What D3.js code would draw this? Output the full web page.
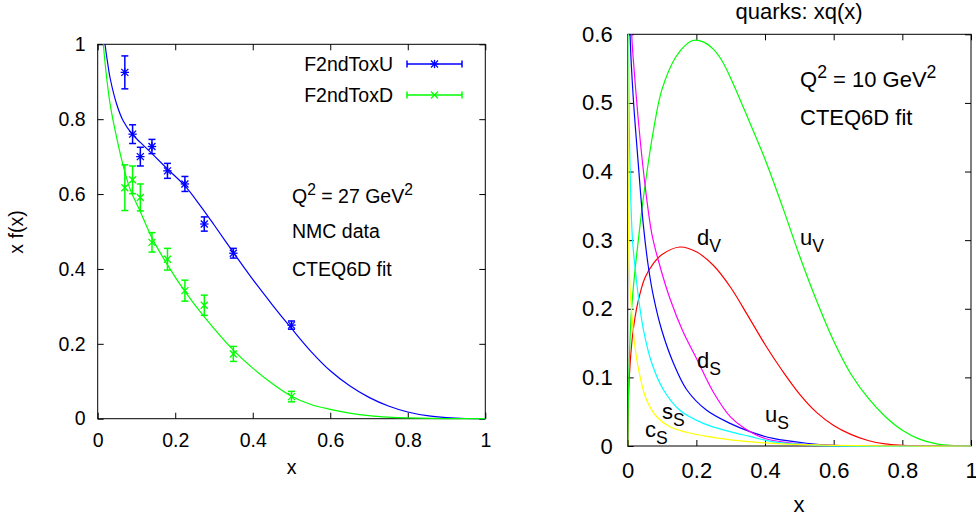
<!DOCTYPE html>
<html>
<head>
<meta charset="utf-8">
<script src="https://cdn.jsdelivr.net/npm/d3@7"></script>
<style>
  body { margin: 0; background: #fff; }
  svg { display: block; font-family: "Liberation Sans", Arial, Helvetica, sans-serif; }
</style>
</head>
<body>
<svg id="chart" width="976" height="519"></svg>
<script>
// ---- left panel: NMC F2n/F2p data mapped to x*u and x*d, with CTEQ6D curves
const nmcX = [0.07, 0.09, 0.11, 0.14, 0.18, 0.225, 0.275, 0.35, 0.5]
const nmcU = [0.925, 0.760, 0.700, 0.727, 0.662, 0.627, 0.520, 0.442, 0.250]
const nmcUErr = [0.044, 0.025, 0.025, 0.019, 0.020, 0.020, 0.019, 0.013, 0.011]
const nmcD = [0.617, 0.638, 0.591, 0.471, 0.426, 0.342, 0.303, 0.173, 0.059]
const nmcDErr = [0.061, 0.037, 0.036, 0.026, 0.029, 0.028, 0.027, 0.020, 0.014]

const fitUX = [0.012, 0.019, 0.025, 0.032, 0.049, 0.066, 0.089, 0.11, 0.14, 0.18, 0.224, 0.264, 0.3, 0.35, 0.4, 0.45, 0.5, 0.55, 0.6, 0.65, 0.7, 0.75, 0.8, 0.85, 0.9, 0.95, 1]
const fitUY = [1.08, 1.0, 0.955, 0.91, 0.84, 0.795, 0.760, 0.738, 0.708, 0.667, 0.623, 0.570, 0.518, 0.444, 0.372, 0.305, 0.241, 0.180, 0.128, 0.088, 0.057, 0.034, 0.018, 0.008, 0.003, 0.0006, 0]
const fitDX = [0.01, 0.0146, 0.02, 0.032, 0.049, 0.066, 0.083, 0.1, 0.11, 0.14, 0.18, 0.225, 0.275, 0.35, 0.4, 0.45, 0.5, 0.55, 0.6, 0.65, 0.7, 0.75, 0.8, 0.9, 1]
const fitDY = [1.07, 1.0, 0.94, 0.84, 0.75, 0.675, 0.615, 0.575, 0.553, 0.483, 0.411, 0.340, 0.272, 0.183, 0.135, 0.094, 0.060, 0.038, 0.025, 0.015, 0.008, 0.004, 0.002, 0.0003, 0]

const leftTicks = [0, 0.2, 0.4, 0.6, 0.8, 1]
const leftTickLabels = ['0', '0.2', '0.4', '0.6', '0.8', '1']

// ---- right panel: quark distributions xq(x) at Q^2 = 10 GeV^2
const uvX = [0, 0.002, 0.005, 0.01, 0.02, 0.031, 0.046, 0.075, 0.1, 0.14, 0.17, 0.19, 0.22, 0.25, 0.275, 0.3, 0.35, 0.4, 0.45, 0.5, 0.55, 0.6, 0.65, 0.7, 0.75, 0.8, 0.85, 0.9, 0.95, 1]
const uvY = [0, 0.07, 0.13, 0.19, 0.25, 0.30, 0.363, 0.46, 0.52, 0.567, 0.585, 0.591, 0.589, 0.578, 0.561, 0.536, 0.478, 0.418, 0.35, 0.278, 0.212, 0.153, 0.105, 0.07, 0.043, 0.023, 0.01, 0.003, 0.0005, 0]
const dvX = [0, 0.002, 0.007, 0.016, 0.03, 0.05, 0.075, 0.1, 0.152, 0.2, 0.25, 0.3, 0.35, 0.4, 0.45, 0.5, 0.55, 0.6, 0.65, 0.7, 0.75, 0.8, 0.85, 1]
const dvY = [0, 0.07, 0.12, 0.169, 0.21, 0.245, 0.266, 0.279, 0.29, 0.283, 0.263, 0.231, 0.19, 0.148, 0.11, 0.076, 0.049, 0.03, 0.017, 0.008, 0.003, 0.001, 0, 0]
const dsX = [0.005, 0.012, 0.02, 0.03, 0.046, 0.07, 0.094, 0.123, 0.16, 0.2, 0.25, 0.3, 0.34, 0.4, 0.5, 0.6, 0.7, 1]
const dsY = [0.75, 0.597, 0.54, 0.48, 0.40, 0.31, 0.262, 0.215, 0.168, 0.128, 0.078, 0.042, 0.026, 0.011, 0.003, 0.001, 0, 0]
const usX = [0.003, 0.007, 0.016, 0.031, 0.046, 0.06, 0.075, 0.099, 0.133, 0.172, 0.23, 0.298, 0.356, 0.424, 0.521, 0.6, 0.7, 1]
const usY = [0.75, 0.597, 0.509, 0.41, 0.32, 0.262, 0.218, 0.169, 0.121, 0.082, 0.052, 0.033, 0.021, 0.011, 0.004, 0.001, 0, 0]
const ssX = [0.001, 0.002, 0.005, 0.009, 0.014, 0.021, 0.031, 0.046, 0.07, 0.104, 0.152, 0.22, 0.298, 0.356, 0.424, 0.521, 0.6, 1]
const ssY = [0.75, 0.6, 0.45, 0.36, 0.3, 0.262, 0.218, 0.169, 0.121, 0.082, 0.052, 0.033, 0.021, 0.014, 0.006, 0.002, 0, 0]
const csX = [0.0005, 0.001, 0.002, 0.005, 0.012, 0.021, 0.036, 0.055, 0.084, 0.123, 0.172, 0.23, 0.3, 0.36, 0.45, 0.6, 0.8, 1]
const csY = [0.6, 0.45, 0.33, 0.25, 0.193, 0.145, 0.101, 0.067, 0.043, 0.028, 0.02, 0.014, 0.009, 0.006, 0.003, 0.001, 0, 0]

const rightXTicks = [0, 0.2, 0.4, 0.6, 0.8, 1]
const rightXTickLabels = ['0', '0.2', '0.4', '0.6', '0.8', '1']
const rightYTicks = [0, 0.1, 0.2, 0.3, 0.4, 0.5, 0.6]
const rightYTickLabels = ['0', '0.1', '0.2', '0.3', '0.4', '0.5', '0.6']

const svg = d3.select('#chart')
const defs = svg.append('defs')

// text with super/subscripts: parts = [[string, 0 | 1 (sup) | -1 (sub)], ...]
function rich (g, x, y, parts, size, anchor = 'start') {
  let t = g.append('text').attr('x', x).attr('y', y)
    .attr('font-size', size).attr('text-anchor', anchor).attr('fill', '#000')
  let cur = 0
  parts.forEach(([s, k]) => {
    let shift = k === 1 ? -0.4 * size : (k === -1 ? 0.3 * size : 0)
    t.append('tspan')
      .attr('dy', shift - cur)
      .attr('font-size', k ? size * 0.8 : size)
      .text(s)
    cur = shift
  })
  return t
}

function frame (g, o, x, y) {
  let ax = (sel) => {
    sel.select('.domain').remove()
    sel.attr('font-size', o.fs).attr('font-family', null)
    sel.selectAll('line').attr('stroke', '#000')
    sel.selectAll('text').attr('fill', '#000')
  }
  g.append('g').attr('transform', `translate(0,${o.bottom})`)
    .call(d3.axisBottom(x).tickValues(o.xTicks).tickFormat((d, i) => o.xLabels[i])
      .tickSize(-6).tickPadding(o.xPad))
    .call(ax)
  g.append('g').attr('transform', `translate(${o.left},0)`)
    .call(d3.axisLeft(y).tickValues(o.yTicks).tickFormat((d, i) => o.yLabels[i])
      .tickSize(-6).tickPadding(o.yPad))
    .call(ax)
  g.append('g').attr('transform', `translate(0,${o.top})`)
    .call(d3.axisTop(x).tickValues(o.xTicks).tickFormat(() => '').tickSize(-6))
    .call(ax)
  g.append('g').attr('transform', `translate(${o.right},0)`)
    .call(d3.axisRight(y).tickValues(o.yTicks).tickFormat(() => '').tickSize(-6))
    .call(ax)
  g.append('rect')
    .attr('x', o.left).attr('y', o.top)
    .attr('width', o.right - o.left).attr('height', o.bottom - o.top)
    .attr('fill', 'none').attr('stroke', '#000').attr('stroke-width', 1)

  defs.append('clipPath').attr('id', o.id + '-clip')
    .append('rect')
    .attr('x', o.left).attr('y', o.top)
    .attr('width', o.right - o.left).attr('height', o.bottom - o.top + 1)
}

function curves (g, o, x, y, series) {
  let line = d3.line().curve(d3.curveCatmullRom.alpha(0.5))
    .x((d) => x(d[0]))
    .y((d) => y(d[1]))
  g.append('g').attr('clip-path', `url(#${o.id}-clip)`)
    .selectAll('path')
    .data(series)
    .enter()
    .append('path')
    .attr('d', (s) => line(d3.zip(s.xs, s.ys)))
    .attr('fill', 'none')
    .attr('stroke', (s) => s.color)
    .attr('stroke-width', 1.2)
}

// marker: 'star' = plus + cross, 'cross' = x only
function marker (g, cx, cy, kind, color) {
  let r = 3.5
  let segs = [[-r, -r, r, r], [-r, r, r, -r]]
  if (kind === 'star') segs.push([-r * 1.2, 0, r * 1.2, 0], [0, -r * 1.2, 0, r * 1.2])
  segs.forEach(([x1, y1, x2, y2]) => {
    g.append('line')
      .attr('x1', cx + x1).attr('y1', cy + y1)
      .attr('x2', cx + x2).attr('y2', cy + y2)
      .attr('stroke', color).attr('stroke-width', 1.3)
  })
}

function errorPoints (g, x, y, xs, ys, errs, kind, color) {
  let cap = 3.5
  xs.forEach((xv, i) => {
    let px = x(xv)
    let lo = y(ys[i] - errs[i])
    let hi = y(ys[i] + errs[i])
    let eb = g.append('g').attr('stroke', color).attr('stroke-width', 1.5)
    eb.append('line').attr('x1', px).attr('x2', px).attr('y1', lo).attr('y2', hi)
    eb.append('line').attr('x1', px - cap).attr('x2', px + cap).attr('y1', lo).attr('y2', lo)
    eb.append('line').attr('x1', px - cap).attr('x2', px + cap).attr('y1', hi).attr('y2', hi)
    marker(g, px, y(ys[i]), kind, color)
  })
}

// ================= left panel =================
{
  let o = {
    id: 'left', left: 97.7, right: 485.3, top: 44.3, bottom: 418.7, fs: 19.5,
    xTicks: leftTicks, xLabels: leftTickLabels, yTicks: leftTicks, yLabels: leftTickLabels,
    xPad: 14, yPad: 12
  }
  let x = d3.scaleLinear().domain([0, 1]).range([o.left, o.right])
  let y = d3.scaleLinear().domain([0, 1]).range([o.bottom, o.top])
  let g = svg.append('g')

  frame(g, o, x, y)
  curves(g, o, x, y, [
    {xs: fitUX, ys: fitUY, color: '#0000ff'},
    {xs: fitDX, ys: fitDY, color: '#00ff00'}
  ])
  errorPoints(g, x, y, nmcX, nmcU, nmcUErr, 'star', '#0000ff')
  errorPoints(g, x, y, nmcX, nmcD, nmcDErr, 'cross', '#00ff00')

  // legend
  let legend = [
    {name: 'F2ndToxU', color: '#0000ff', kind: 'star', cy: 64},
    {name: 'F2ndToxD', color: '#00ff00', kind: 'cross', cy: 95}
  ]
  legend.forEach((l) => {
    g.append('text').attr('x', 393).attr('y', l.cy + 7)
      .attr('text-anchor', 'end').attr('font-size', 19.5).text(l.name)
    let lg = g.append('g').attr('stroke', l.color).attr('stroke-width', 1.5)
    lg.append('line').attr('x1', 407).attr('x2', 462).attr('y1', l.cy).attr('y2', l.cy)
    lg.append('line').attr('x1', 407).attr('x2', 407).attr('y1', l.cy - 3.5).attr('y2', l.cy + 3.5)
    lg.append('line').attr('x1', 462).attr('x2', 462).attr('y1', l.cy - 3.5).attr('y2', l.cy + 3.5)
    marker(g, 434.5, l.cy, l.kind, l.color)
  })

  rich(g, 292, 203, [['Q', 0], ['2', 1], [' = 27 GeV', 0], ['2', 1]], 19.5)
  g.append('text').attr('x', 292).attr('y', 238).attr('font-size', 19.5).text('NMC data')
  g.append('text').attr('x', 292).attr('y', 276).attr('font-size', 19.5).text('CTEQ6D fit')

  g.append('text').attr('x', 291.5).attr('y', 474)
    .attr('text-anchor', 'middle').attr('font-size', 19.5).text('x')
  g.append('text')
    .attr('transform', 'translate(23,232) rotate(-90)')
    .attr('text-anchor', 'middle').attr('font-size', 19.5).text('x f(x)')
}

// ================= right panel =================
{
  let o = {
    id: 'right', left: 627.7, right: 971, top: 34.3, bottom: 446, fs: 22,
    xTicks: rightXTicks, xLabels: rightXTickLabels, yTicks: rightYTicks, yLabels: rightYTickLabels,
    xPad: 16, yPad: 15
  }
  let x = d3.scaleLinear().domain([0, 1]).range([o.left, o.right])
  let y = d3.scaleLinear().domain([0, 0.6]).range([o.bottom, o.top])
  let g = svg.append('g')

  frame(g, o, x, y)
  curves(g, o, x, y, [
    {xs: dvX, ys: dvY, color: '#ff0000'},
    {xs: uvX, ys: uvY, color: '#00ff00'},
    {xs: usX, ys: usY, color: '#0000ff'},
    {xs: dsX, ys: dsY, color: '#ff00ff'},
    {xs: ssX, ys: ssY, color: '#00ffff'},
    {xs: csX, ys: csY, color: '#ffff00'}
  ])

  let fs = 22
  rich(g, 697, 245, [['d', 0], ['V', -1]], fs)
  rich(g, 800, 245, [['u', 0], ['V', -1]], fs)
  rich(g, 697, 368, [['d', 0], ['S', -1]], fs)
  rich(g, 765, 422, [['u', 0], ['S', -1]], fs)
  rich(g, 662, 419, [['s', 0], ['S', -1]], fs)
  rich(g, 645, 437, [['c', 0], ['S', -1]], fs)

  rich(g, 800, 87, [['Q', 0], ['2', 1], [' = 10 GeV', 0], ['2', 1]], fs)
  g.append('text').attr('x', 800).attr('y', 125).attr('font-size', fs).text('CTEQ6D fit')

  g.append('text').attr('x', 799).attr('y', 19)
    .attr('text-anchor', 'middle').attr('font-size', fs).text('quarks: xq(x)')
  g.append('text').attr('x', 799).attr('y', 512)
    .attr('text-anchor', 'middle').attr('font-size', fs).text('x')
}
</script>
</body>
</html>
